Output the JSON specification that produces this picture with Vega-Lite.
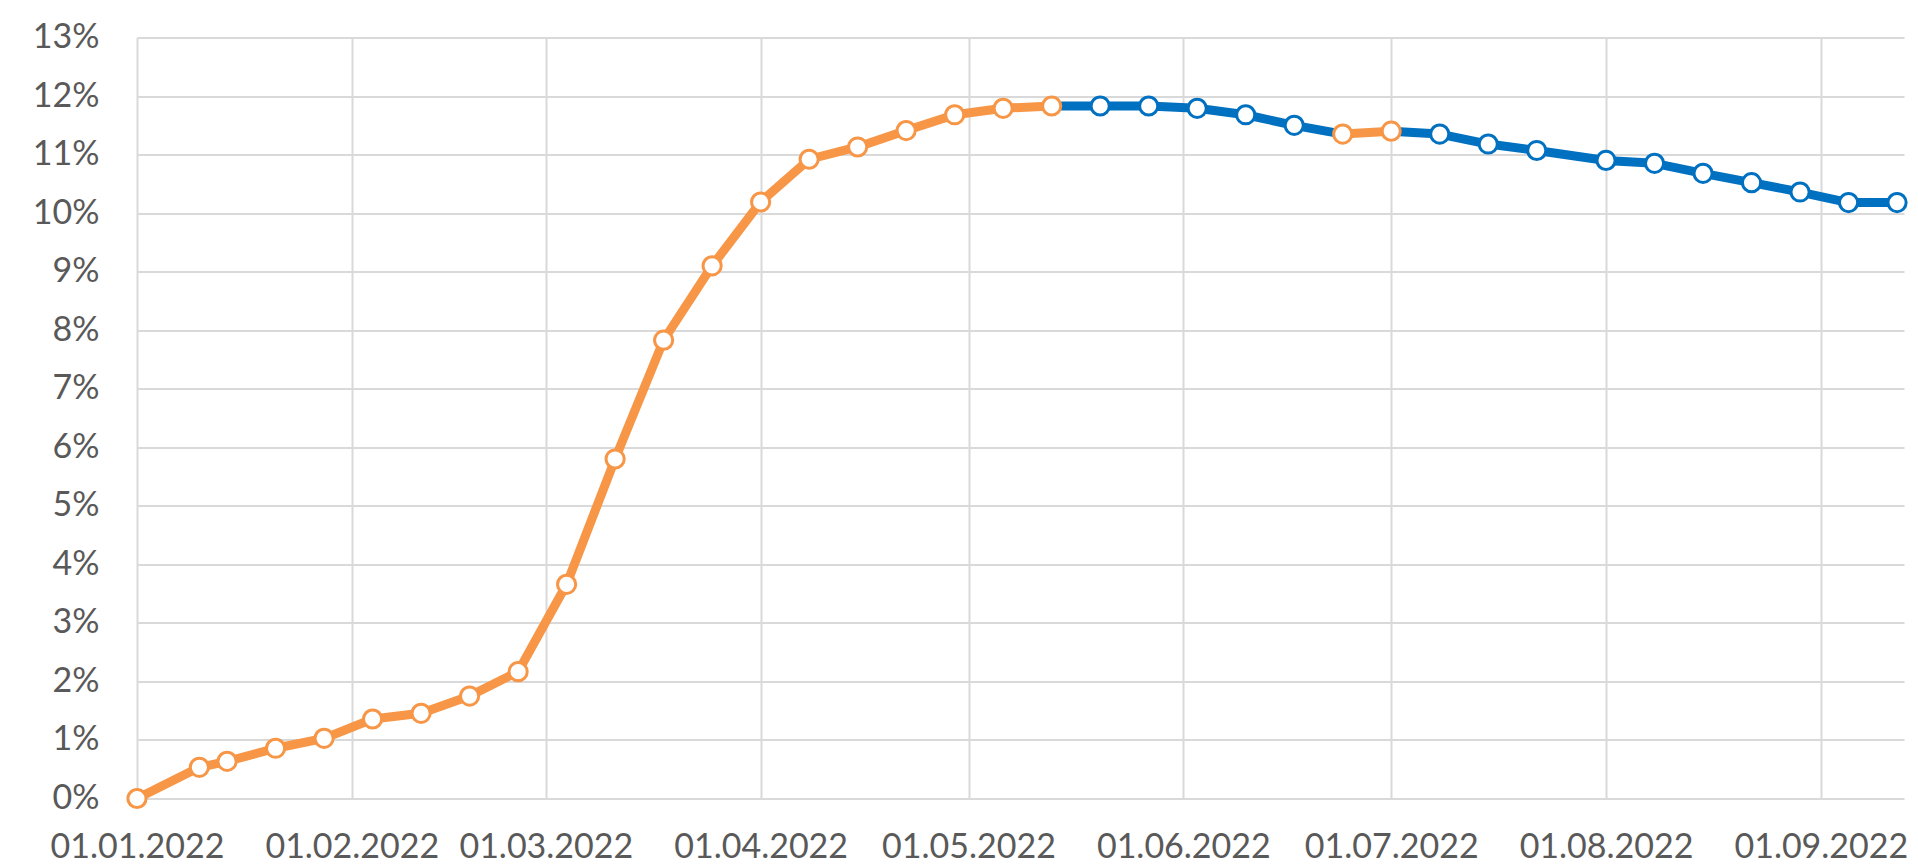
{
  "$schema": "https://vega.github.io/schema/vega-lite/v6.json",
  "autosize": "none",
  "width": 1767,
  "height": 761,
  "padding": {"left": 137, "top": 37.5, "right": 14, "bottom": 67.5},
  "background": "white",
  "config": {"view": {"stroke": null}, "font": "Lato"},
  "datasets": {
    "lines": [
      {"d": "2022-01-01", "v": 0, "seg": "s1", "c": "up"},
      {"d": "2022-01-10", "v": 0.533, "seg": "s1", "c": "up"},
      {"d": "2022-01-14", "v": 0.635, "seg": "s1", "c": "up"},
      {"d": "2022-01-21", "v": 0.858, "seg": "s1", "c": "up"},
      {"d": "2022-01-28", "v": 1.028, "seg": "s1", "c": "up"},
      {"d": "2022-02-04", "v": 1.358, "seg": "s1", "c": "up"},
      {"d": "2022-02-11", "v": 1.455, "seg": "s1", "c": "up"},
      {"d": "2022-02-18", "v": 1.75, "seg": "s1", "c": "up"},
      {"d": "2022-02-25", "v": 2.166, "seg": "s1", "c": "up"},
      {"d": "2022-03-04", "v": 3.659, "seg": "s1", "c": "up"},
      {"d": "2022-03-11", "v": 5.80, "seg": "s1", "c": "up"},
      {"d": "2022-03-18", "v": 7.83, "seg": "s1", "c": "up"},
      {"d": "2022-03-25", "v": 9.10, "seg": "s1", "c": "up"},
      {"d": "2022-04-01", "v": 10.19, "seg": "s1", "c": "up"},
      {"d": "2022-04-08", "v": 10.92, "seg": "s1", "c": "up"},
      {"d": "2022-04-15", "v": 11.13, "seg": "s1", "c": "up"},
      {"d": "2022-04-22", "v": 11.41, "seg": "s1", "c": "up"},
      {"d": "2022-04-29", "v": 11.68, "seg": "s1", "c": "up"},
      {"d": "2022-05-06", "v": 11.79, "seg": "s1", "c": "up"},
      {"d": "2022-05-13", "v": 11.83, "seg": "s1", "c": "up"},
      {"d": "2022-05-13", "v": 11.83, "seg": "s2", "c": "down"},
      {"d": "2022-05-20", "v": 11.83, "seg": "s2", "c": "down"},
      {"d": "2022-05-27", "v": 11.83, "seg": "s2", "c": "down"},
      {"d": "2022-06-03", "v": 11.79, "seg": "s2", "c": "down"},
      {"d": "2022-06-10", "v": 11.68, "seg": "s2", "c": "down"},
      {"d": "2022-06-17", "v": 11.50, "seg": "s2", "c": "down"},
      {"d": "2022-06-24", "v": 11.35, "seg": "s2", "c": "down"},
      {"d": "2022-06-24", "v": 11.35, "seg": "s3", "c": "up"},
      {"d": "2022-07-01", "v": 11.40, "seg": "s3", "c": "up"},
      {"d": "2022-07-01", "v": 11.40, "seg": "s4", "c": "down"},
      {"d": "2022-07-08", "v": 11.35, "seg": "s4", "c": "down"},
      {"d": "2022-07-15", "v": 11.18, "seg": "s4", "c": "down"},
      {"d": "2022-07-22", "v": 11.07, "seg": "s4", "c": "down"},
      {"d": "2022-08-01", "v": 10.90, "seg": "s4", "c": "down"},
      {"d": "2022-08-08", "v": 10.85, "seg": "s4", "c": "down"},
      {"d": "2022-08-15", "v": 10.68, "seg": "s4", "c": "down"},
      {"d": "2022-08-22", "v": 10.52, "seg": "s4", "c": "down"},
      {"d": "2022-08-29", "v": 10.36, "seg": "s4", "c": "down"},
      {"d": "2022-09-05", "v": 10.18, "seg": "s4", "c": "down"},
      {"d": "2022-09-12", "v": 10.18, "seg": "s4", "c": "down"}
    ],
    "pts": [
      {"d": "2022-01-01", "v": 0, "c": "up"},
      {"d": "2022-01-10", "v": 0.533, "c": "up"},
      {"d": "2022-01-14", "v": 0.635, "c": "up"},
      {"d": "2022-01-21", "v": 0.858, "c": "up"},
      {"d": "2022-01-28", "v": 1.028, "c": "up"},
      {"d": "2022-02-04", "v": 1.358, "c": "up"},
      {"d": "2022-02-11", "v": 1.455, "c": "up"},
      {"d": "2022-02-18", "v": 1.75, "c": "up"},
      {"d": "2022-02-25", "v": 2.166, "c": "up"},
      {"d": "2022-03-04", "v": 3.659, "c": "up"},
      {"d": "2022-03-11", "v": 5.80, "c": "up"},
      {"d": "2022-03-18", "v": 7.83, "c": "up"},
      {"d": "2022-03-25", "v": 9.10, "c": "up"},
      {"d": "2022-04-01", "v": 10.19, "c": "up"},
      {"d": "2022-04-08", "v": 10.92, "c": "up"},
      {"d": "2022-04-15", "v": 11.13, "c": "up"},
      {"d": "2022-04-22", "v": 11.41, "c": "up"},
      {"d": "2022-04-29", "v": 11.68, "c": "up"},
      {"d": "2022-05-06", "v": 11.79, "c": "up"},
      {"d": "2022-05-13", "v": 11.83, "c": "up"},
      {"d": "2022-05-20", "v": 11.83, "c": "down"},
      {"d": "2022-05-27", "v": 11.83, "c": "down"},
      {"d": "2022-06-03", "v": 11.79, "c": "down"},
      {"d": "2022-06-10", "v": 11.68, "c": "down"},
      {"d": "2022-06-17", "v": 11.50, "c": "down"},
      {"d": "2022-06-24", "v": 11.35, "c": "up"},
      {"d": "2022-07-01", "v": 11.40, "c": "up"},
      {"d": "2022-07-08", "v": 11.35, "c": "down"},
      {"d": "2022-07-15", "v": 11.18, "c": "down"},
      {"d": "2022-07-22", "v": 11.07, "c": "down"},
      {"d": "2022-08-01", "v": 10.90, "c": "down"},
      {"d": "2022-08-08", "v": 10.85, "c": "down"},
      {"d": "2022-08-15", "v": 10.68, "c": "down"},
      {"d": "2022-08-22", "v": 10.52, "c": "down"},
      {"d": "2022-08-29", "v": 10.36, "c": "down"},
      {"d": "2022-09-05", "v": 10.18, "c": "down"},
      {"d": "2022-09-12", "v": 10.18, "c": "down"}
    ]
  },
  "encoding": {
    "x": {
      "field": "d",
      "type": "temporal",
      "scale": {
        "type": "utc",
        "domain": [
          {"year": 2022, "month": 1, "date": 1, "utc": true},
          {"year": 2022, "month": 9, "date": 13, "utc": true}
        ]
      },
      "axis": {
        "title": null,
        "format": "%d.%m.%Y",
        "values": [
          {"year": 2022, "month": 1, "date": 1, "utc": true},
          {"year": 2022, "month": 2, "date": 1, "utc": true},
          {"year": 2022, "month": 3, "date": 1, "utc": true},
          {"year": 2022, "month": 4, "date": 1, "utc": true},
          {"year": 2022, "month": 5, "date": 1, "utc": true},
          {"year": 2022, "month": 6, "date": 1, "utc": true},
          {"year": 2022, "month": 7, "date": 1, "utc": true},
          {"year": 2022, "month": 8, "date": 1, "utc": true},
          {"year": 2022, "month": 9, "date": 1, "utc": true}
        ],
        "grid": true,
        "gridColor": "#d9d9d9",
        "gridWidth": 2,
        "domain": false,
        "ticks": false,
        "tickSize": 0,
        "labelPadding": 32,
        "labelFontSize": 34,
        "labelColor": "#595959",
        "labelFont": "Lato",
        "labelOverlap": false,
        "labelFlush": false,
        "labelBound": false
      }
    },
    "y": {
      "field": "v",
      "type": "quantitative",
      "scale": {"domain": [0, 13], "nice": false, "zero": true},
      "axis": {
        "title": null,
        "values": [0, 1, 2, 3, 4, 5, 6, 7, 8, 9, 10, 11, 12, 13],
        "labelExpr": "datum.value + '%'",
        "grid": true,
        "gridColor": "#d9d9d9",
        "gridWidth": 2,
        "domain": false,
        "ticks": false,
        "tickSize": 0,
        "labelPadding": 38,
        "labelFontSize": 34,
        "labelColor": "#595959",
        "labelFont": "Lato",
        "labelOverlap": false,
        "labelFlush": false,
        "labelBound": false
      }
    }
  },
  "layer": [
    {
      "data": {"name": "lines"},
      "mark": {"type": "line", "strokeWidth": 9, "strokeJoin": "round", "strokeCap": "round"},
      "encoding": {
        "detail": {"field": "seg"},
        "color": {
          "field": "c",
          "type": "nominal",
          "scale": {"domain": ["up", "down"], "range": ["#F79646", "#0070C0"]},
          "legend": null
        }
      }
    },
    {
      "data": {"name": "pts"},
      "mark": {"type": "point", "shape": "circle", "filled": false, "fill": "white", "fillOpacity": 1, "strokeWidth": 3, "size": 330, "opacity": 1},
      "encoding": {
        "stroke": {
          "field": "c",
          "type": "nominal",
          "scale": {"domain": ["up", "down"], "range": ["#F79646", "#0070C0"]},
          "legend": null
        }
      }
    }
  ]
}
